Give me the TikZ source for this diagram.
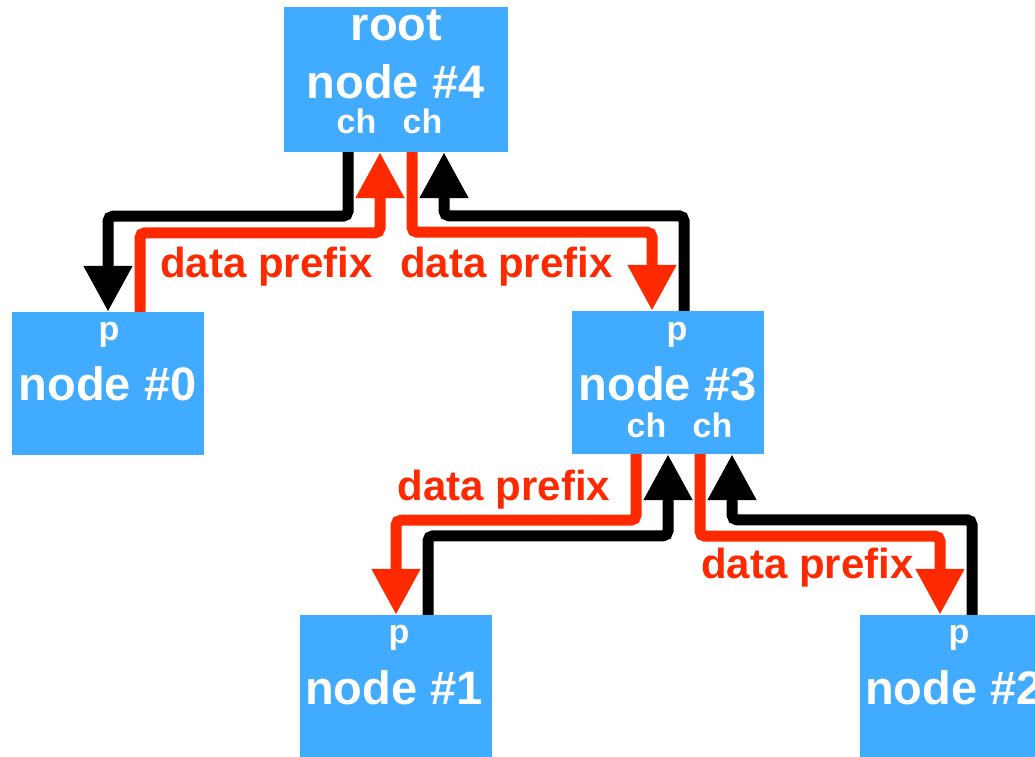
\documentclass[tikz,border=0pt]{standalone}
\usepackage{fontspec}
\setmainfont{Liberation Sans}
\usetikzlibrary{arrows.meta}
\definecolor{boxblue}{RGB}{64,171,255}
\definecolor{flowred}{RGB}{255,41,0}
\begin{document}
\begin{tikzpicture}[x=1pt,y=-1pt,
  box/.style={fill=boxblue,draw=none,inner sep=0pt,minimum width=192pt,minimum height=143pt},
  big/.style={text=white,font=\fontsize{47}{50}\selectfont\bfseries,anchor=base,inner sep=0pt},
  small/.style={text=white,font=\fontsize{34}{36}\selectfont\bfseries,anchor=base,inner sep=0pt},
  lbl/.style={text=flowred,font=\fontsize{42}{44}\selectfont\bfseries,anchor=base,inner sep=0pt},
  conn/.style={line width=11pt,rounded corners=5pt,-{Triangle[width=46pt,length=46pt]}},
  blk/.style={conn,draw=black},
  rd/.style={conn,draw=flowred}]
\useasboundingbox (0,0) rectangle (1035,756);
\clip (0,0) rectangle (1035,756);
% boxes
\node[box,minimum width=224pt,minimum height=145pt] (root) at (396,79.5) {};
\node[box] (n0) at (108,383.5) {};
\node[box] (n3) at (668,382.5) {};
\node[box] (n1) at (396,686.5) {};
\node[box] (n2) at (956,686.5) {};
% texts
\node[big] (troot) at (396.5,40) {root};
\node[big] (t4) at (395.5,98) {node \#4};
\node[small] (c4a) at (356.5,133) {ch};
\node[small] (c4b) at (422.5,133) {ch};
\node[small] (p0) at (109,340) {p};
\node[big] (t0) at (107.5,400) {node \#0};
\node[small] (p3) at (677,340) {p};
\node[big] (t3) at (667.5,400) {node \#3};
\node[small] (c3a) at (646.5,437) {ch};
\node[small] (c3b) at (712.5,437) {ch};
\node[small] (p1) at (399,643) {p};
\node[big] (t1) at (394,704) {node \#1};
\node[small] (p2) at (959,643) {p};
\node[big] (t2) at (954,704) {node \#2};
% connectors
\draw[blk] ([xshift=-48pt]root.south) -- ++(0,64) -| (n0.north);
\draw[rd] ([xshift=32pt]n0.north) -- ++(0,-79) -| ([xshift=-16pt]root.south);
\draw[rd] ([xshift=16pt]root.south) -- ++(0,80) -| ([xshift=-16pt]n3.north);
\draw[blk] ([xshift=16pt]n3.north) -- ++(0,-95) -| ([xshift=48pt]root.south);
\draw[rd] ([xshift=-32pt]n3.south) -- ++(0,66) -| (n1.north);
\draw[blk] ([xshift=32pt]n1.north) -- ++(0,-79) -| (n3.south);
\draw[rd] ([xshift=32pt]n3.south) -- ++(0,82) -| ([xshift=-16pt]n2.north);
\draw[blk] ([xshift=16pt]n2.north) -- ++(0,-95) -| ([xshift=64pt]n3.south);
% labels
\node[lbl] (d1) at (266.5,277) {data prefix};
\node[lbl] (d2) at (506.5,277) {data prefix};
\node[lbl] (d3) at (504,500) {data prefix};
\node[lbl] (d4) at (807.5,578) {data prefix};
\end{tikzpicture}
\end{document}
